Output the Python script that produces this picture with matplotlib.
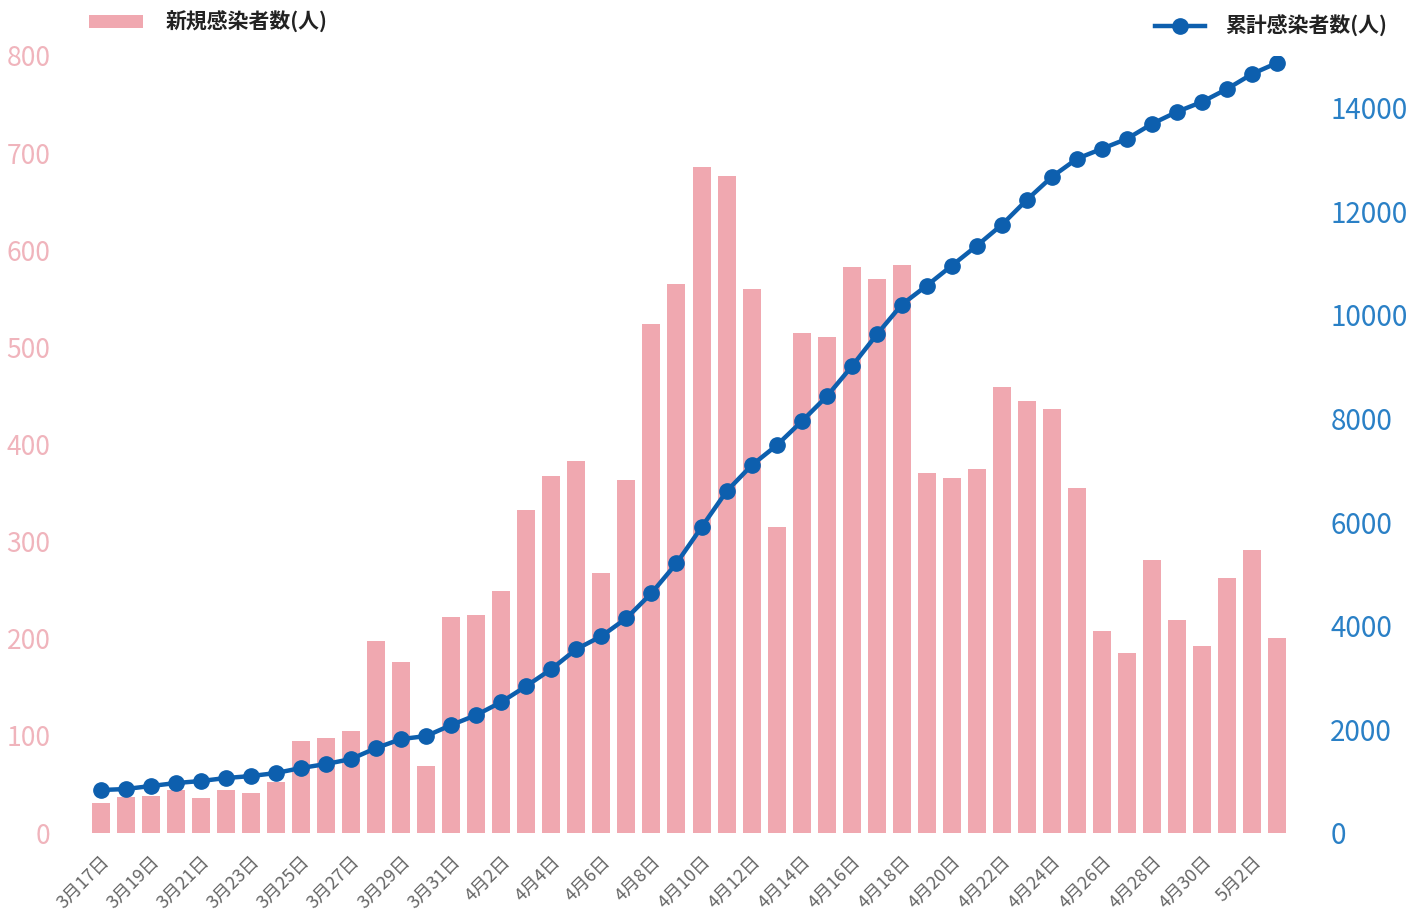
import matplotlib
matplotlib.use("Agg")
import matplotlib.pyplot as plt
import numpy as np

plt.rcParams['font.family'] = ['Noto Sans CJK JP', 'DejaVu Sans']

dates = (["3月%d日" % d for d in range(17, 32)] +
         ["4月%d日" % d for d in range(1, 31)] +
         ["5月%d日" % d for d in range(1, 4)])

new_cases = [31, 37, 38, 44, 36, 44, 41, 52, 95, 98, 105, 198, 176, 69, 222,
             224, 249, 333, 368, 383, 268, 363, 524, 565, 686, 676, 560, 315, 515, 511,
             583, 570, 585, 371, 366, 375, 459, 445, 437, 355, 208, 185, 281, 219, 193,
             263, 291, 201]

cumulative = [829, 849, 906, 964, 1003, 1061, 1099, 1157, 1254, 1331, 1427, 1639, 1813, 1871, 2083,
              2276, 2527, 2835, 3163, 3549, 3799, 4146, 4629, 5207, 5902, 6596, 7097, 7483, 7946, 8428,
              9007, 9624, 10202, 10569, 10955, 11340, 11745, 12227, 12671, 13018, 13211, 13404, 13693, 13925, 14117,
              14368, 14657, 14870]

left_ticks = [0, 100, 200, 300, 400, 500, 600, 700, 800]
right_ticks = [0, 2000, 4000, 6000, 8000, 10000, 12000, 14000]

bar_color = '#f0a8b0'
line_color = '#0d5fae'
left_tick_color = '#f0b4bc'
right_tick_color = '#2a80c6'

fig = plt.figure(figsize=(14.21, 9.15), dpi=100)
ax = fig.add_axes([88/1421, 1-833/915, (1290-88)/1421, (833-56)/915])
x = np.arange(len(dates))

bars = ax.bar(x, new_cases, width=0.72, color=bar_color, label='新規感染者数(人)', zorder=1)
ax.set_xlim(-0.5, len(dates) - 0.5)
ax.set_ylim(0, 800)
ax.set_yticks(left_ticks)
ax.tick_params(axis='y', length=0, labelsize=19, labelcolor=left_tick_color, pad=27)
ax.set_xticks(x[::2])
ax.set_xticklabels(dates[::2], rotation=45, ha='right', rotation_mode='anchor',
                   fontsize=13, color='#666666')
ax.tick_params(axis='x', length=0, pad=14)
for s in ax.spines.values():
    s.set_visible(False)

ax2 = ax.twinx()
line, = ax2.plot(x, cumulative, color=line_color, lw=3.2, marker='o', markersize=11,
                 markerfacecolor=line_color, markeredgecolor=line_color,
                 label='累計感染者数(人)', zorder=3)
ax2.set_ylim(0, 15000)
ax2.set_yticks(right_ticks)
ax2.tick_params(axis='y', length=0, labelsize=20, labelcolor=right_tick_color, pad=29)
for s in ax2.spines.values():
    s.set_visible(False)

fig.legend(handles=[bars], loc='center left', bbox_to_anchor=(70/1421, 1-22/915),
           frameon=False, handlelength=2.6, handleheight=0.55, handletextpad=1.1,
           prop={'size': 15, 'weight': 'bold'}, labelcolor='#222222')
fig.legend(handles=[line], loc='center left', bbox_to_anchor=(1136/1421, 1-26/915),
           frameon=False, handlelength=2.4, handletextpad=1.0,
           prop={'size': 15, 'weight': 'bold'}, labelcolor='#222222')

fig.savefig('out.png', dpi=100, facecolor='white')
